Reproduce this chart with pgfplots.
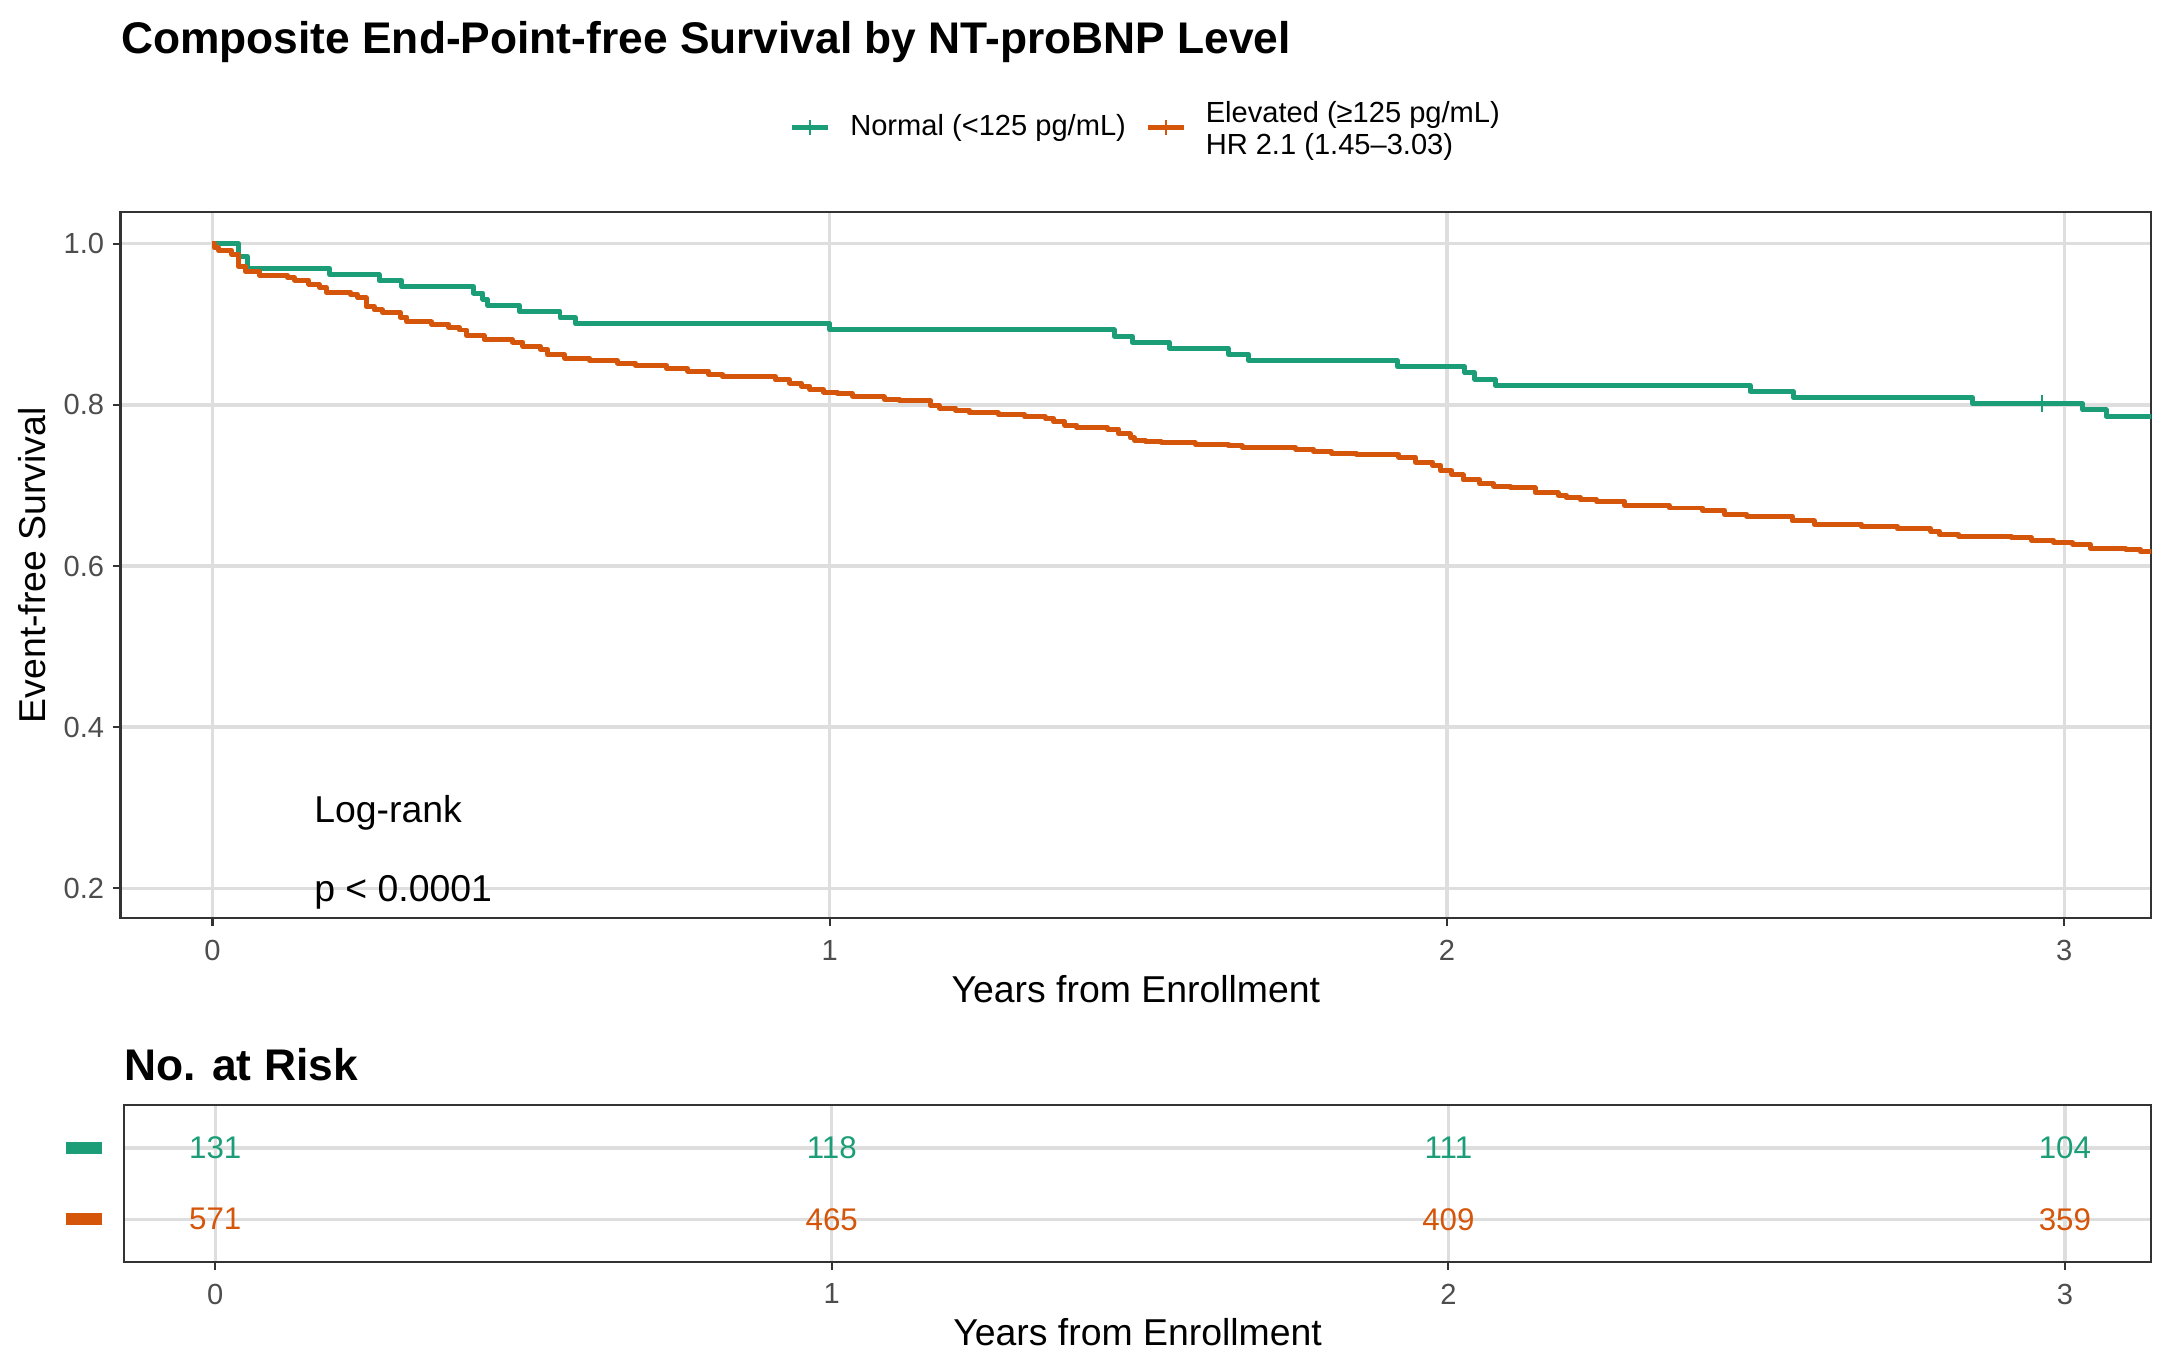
\documentclass[border=0pt]{standalone}
\usepackage{pgfplots}
\pgfplotsset{compat=1.18}
\usepackage{fontspec}
\setmainfont{Liberation Sans}

\definecolor{normal}{HTML}{1B9E77}
\definecolor{elev}{HTML}{D5560A}
\definecolor{gridc}{HTML}{DEDEDE}
\definecolor{framec}{HTML}{333333}
\definecolor{ticktxt}{HTML}{4D4D4D}

\pgfplotsset{
  kmbase/.style={
    scale only axis,
    axis line style={framec, line width=0.75pt},
    grid=major,
    major grid style={gridc, line width=1.2pt},
    tick align=outside,
    tick pos=left,
    major tick length=2.75pt,
    tick style={framec, line width=0.75pt},
    xtick={0,1,2,3},
    ticklabel style={font=\fontsize{10.5}{12}\selectfont, text=ticktxt, inner sep=0pt},
    /pgf/number format/assume math mode=true,
    xticklabel style={yshift=-5pt},
    xlabel style={font=\fontsize{13.5}{16}\selectfont, at={(axis description cs:0.5,0)},
      anchor=base, yshift=-30.3pt, inner sep=0pt},
    title style={font=\fontsize{16}{19}\selectfont\bfseries, at={(axis description cs:0,1)},
      anchor=base west, inner sep=0pt},
  }
}

\begin{document}
\begin{tikzpicture}
\useasboundingbox (0,0) rectangle (784pt,494.5pt);

% survival curves
\begin{axis}[kmbase,
  at={(43.5pt,163pt)}, anchor=south west,
  width=733pt, height=255pt,
  xmin=-0.149, xmax=3.141, ymin=0.1625, ymax=1.0396,
  ytick={0.2,0.4,0.6,0.8,1.0},
  yticklabel style={/pgf/number format/fixed, /pgf/number format/fixed zerofill,
    /pgf/number format/precision=1, xshift=-3pt},
  xlabel={Years from Enrollment},
  ylabel={Event-free Survival},
  ylabel style={font=\fontsize{13.5}{16}\selectfont, at={(axis description cs:-0.03704,0.5)},
    anchor=base, inner sep=0pt},
  title={Composite End-Point-free Survival by NT-proBNP Level},
  title style={yshift=51.25pt},
  legend style={draw=none, fill=none, at={(axis description cs:0.5058,1.12)}, anchor=center,
    font=\fontsize{10.5}{11.5}\selectfont, column sep=5pt,
    /tikz/every even column/.append style={column sep=5pt}},
  legend columns=2,
  legend cell align=left,
  legend image code/.code={
    \draw[#1, line width=1.8pt] (0pt,0pt) -- (13pt,0pt);
    \draw[#1, line width=0.7pt] (6.5pt,-2.75pt) -- (6.5pt,2.75pt);
  },
]
\addplot[normal, line width=1.8pt, line join=round, const plot] coordinates {
  (0,1.0000) (0.042,0.9847) (0.056,0.9695) (0.190,0.9618) (0.270,0.9542)
  (0.307,0.9466) (0.423,0.9389) (0.438,0.9313) (0.446,0.9237) (0.497,0.9160)
  (0.563,0.9084) (0.588,0.9008) (1.000,0.8931) (1.461,0.8855) (1.490,0.8779)
  (1.550,0.8702) (1.646,0.8626) (1.679,0.8550) (1.920,0.8473) (2.029,0.8397)
  (2.045,0.8321) (2.078,0.8244) (2.491,0.8168) (2.561,0.8092) (2.851,0.8015)
  (3.030,0.7938) (3.068,0.7861) (3.147,0.7861)
};
\addlegendentry{Normal (<125 pg/mL)}
\addplot[elev, line width=1.8pt, line join=round, const plot] coordinates {
  (0,1.000) (0.003,0.995) (0.010,0.992) (0.031,0.987) (0.042,0.972) (0.053,0.966)
  (0.076,0.961) (0.122,0.958) (0.133,0.955) (0.156,0.950) (0.173,0.946)
  (0.184,0.940) (0.224,0.937) (0.235,0.933) (0.249,0.922) (0.262,0.918)
  (0.275,0.915) (0.304,0.909) (0.315,0.903) (0.355,0.900) (0.383,0.896)
  (0.400,0.893) (0.412,0.886) (0.440,0.881) (0.486,0.878) (0.503,0.873)
  (0.531,0.869) (0.543,0.862) (0.571,0.858) (0.611,0.855) (0.656,0.852)
  (0.685,0.849) (0.736,0.845) (0.770,0.842) (0.804,0.838) (0.827,0.835)
  (0.912,0.831) (0.935,0.827) (0.954,0.823) (0.968,0.819) (0.990,0.816)
  (1.012,0.814) (1.037,0.811) (1.070,0.810) (1.088,0.807) (1.113,0.805)
  (1.164,0.799) (1.178,0.796) (1.204,0.793) (1.226,0.790) (1.273,0.788)
  (1.316,0.785) (1.349,0.783) (1.363,0.779) (1.381,0.775) (1.400,0.772)
  (1.450,0.770) (1.468,0.764) (1.487,0.759) (1.494,0.756) (1.512,0.754)
  (1.537,0.753) (1.592,0.751) (1.646,0.749) (1.668,0.747) (1.755,0.745)
  (1.784,0.742) (1.813,0.740) (1.853,0.738) (1.922,0.735) (1.949,0.729)
  (1.977,0.725) (1.990,0.718) (2.008,0.713) (2.026,0.707) (2.053,0.702)
  (2.076,0.699) (2.103,0.697) (2.143,0.691) (2.180,0.688) (2.193,0.685)
  (2.216,0.682) (2.243,0.680) (2.288,0.675) (2.360,0.672) (2.414,0.669)
  (2.450,0.664) (2.486,0.662) (2.559,0.656) (2.595,0.652) (2.671,0.649)
  (2.730,0.646) (2.784,0.643) (2.798,0.639) (2.829,0.637) (2.915,0.635)
  (2.947,0.632) (2.983,0.629) (3.014,0.627) (3.042,0.622) (3.100,0.621)
  (3.123,0.618) (3.147,0.618)
};
\addlegendentry{\raisebox{3.75pt}{\begin{tabular}{@{}l@{}}Elevated (≥125 pg/mL)\\HR 2.1 (1.45–3.03)\end{tabular}}}
% censored observation
\addplot[normal, only marks, mark=|, mark size=3.1pt, mark options={line width=0.6pt}, forget plot]
  coordinates {(2.964,0.8015)};
\node[anchor=base west, inner sep=0pt, font=\fontsize{13.5}{16}\selectfont] at (axis cs:0.164,0.281) {Log-rank};
\node[anchor=base west, inner sep=0pt, font=\fontsize{13.5}{16}\selectfont] at (axis cs:0.164,0.183) {p < 0.0001};
\end{axis}

% number at risk table
\begin{axis}[kmbase,
  at={(44.75pt,39pt)}, anchor=south west,
  width=731.75pt, height=56.5pt,
  xmin=-0.148, xmax=3.140, ymin=0.4, ymax=2.6,
  ytick={1,2},
  yticklabels={\textcolor{elev}{\rule{13pt}{4.2pt}}, \textcolor{normal}{\rule{13pt}{4.2pt}}},
  ytick style={draw=none},
  yticklabel style={xshift=-5pt},
  xlabel={Years from Enrollment},
  title={No. at Risk},
  title style={yshift=3pt},
  every node near coord/.append style={font=\fontsize{11.3}{13}\selectfont, anchor=center, inner sep=0pt},
]
\addplot[draw=none, nodes near coords, point meta=explicit symbolic,
  every node near coord/.append style={text=normal}]
  coordinates {(0,2)[131] (1,2)[118] (2,2)[111] (3,2)[104]};
\addplot[draw=none, nodes near coords, point meta=explicit symbolic,
  every node near coord/.append style={text=elev}]
  coordinates {(0,1)[571] (1,1)[465] (2,1)[409] (3,1)[359]};
\end{axis}
\end{tikzpicture}
\end{document}
